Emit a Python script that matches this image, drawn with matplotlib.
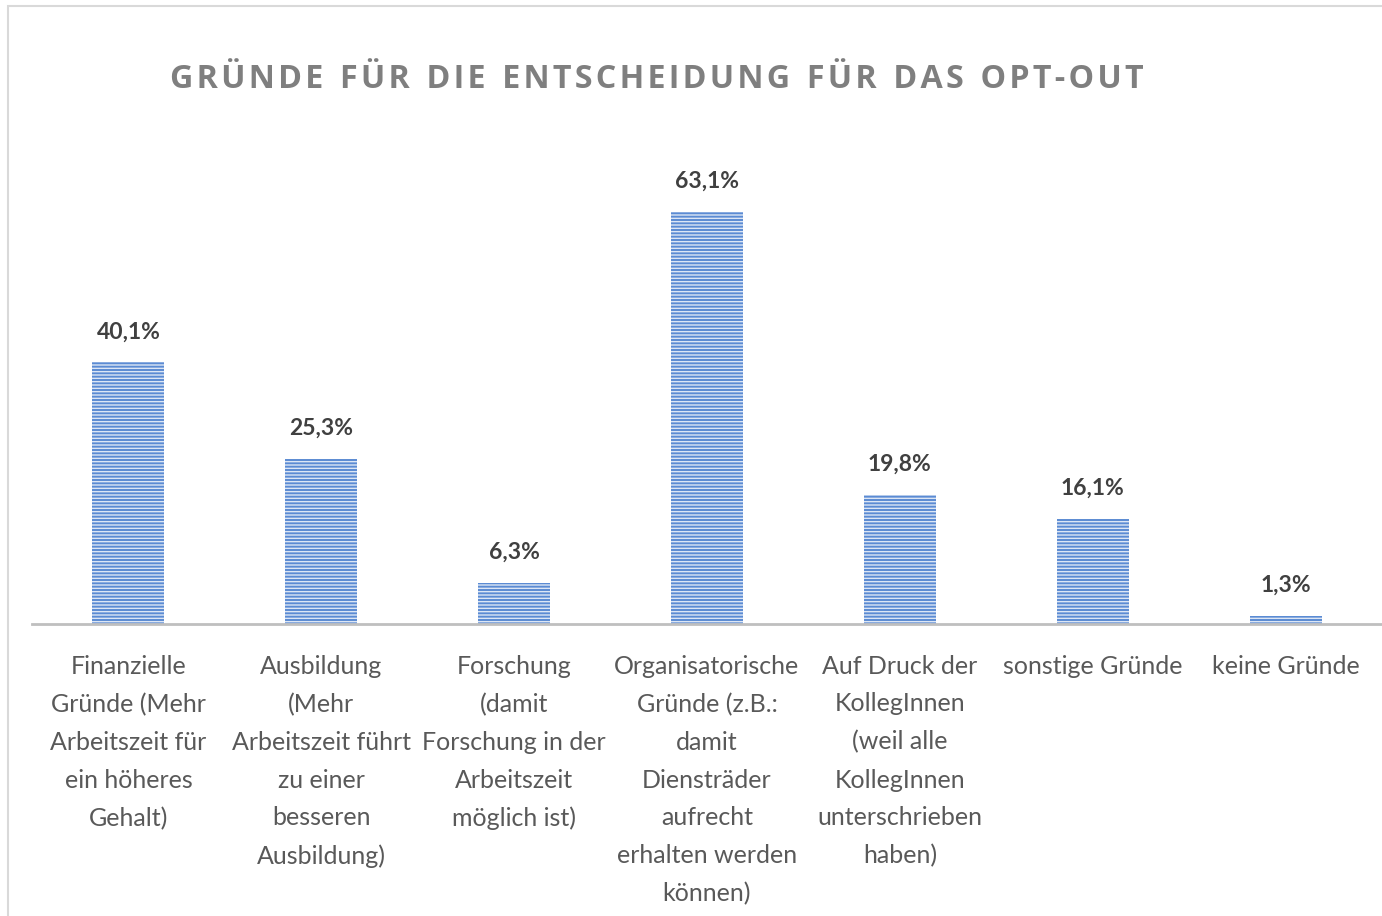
import matplotlib.pyplot as plt
from matplotlib.patches import Rectangle

plt.rcParams['hatch.color'] = '#dce6f5'
plt.rcParams['hatch.linewidth'] = 1.0

# Kategorien und Werte (in %)
kategorien = [
    'Finanzielle\nGründe (Mehr\nArbeitszeit für\nein höheres\nGehalt)',
    'Ausbildung\n(Mehr\nArbeitszeit führt\nzu einer\nbesseren\nAusbildung)',
    'Forschung\n(damit\nForschung in der\nArbeitszeit\nmöglich ist)',
    'Organisatorische\nGründe (z.B.:\ndamit\nDiensträder\naufrecht\nerhalten werden\nkönnen)',
    'Auf Druck der\nKollegInnen\n(weil alle\nKollegInnen\nunterschrieben\nhaben)',
    'sonstige Gründe',
    'keine Gründe',
]
werte = [40.1, 25.3, 6.3, 63.1, 19.8, 16.1, 1.3]
beschriftung = ['40,1%', '25,3%', '6,3%', '63,1%', '19,8%', '16,1%', '1,3%']
titel = 'GRÜNDE FÜR DIE ENTSCHEIDUNG FÜR DAS OPT-OUT'

fig = plt.figure(figsize=(13.82, 9.16), dpi=100)
fig.patches.append(Rectangle((8 / 1382, -0.1), 1.2, 1 - 6 / 916 + 0.1,
                             transform=fig.transFigure, fill=False,
                             edgecolor='#d9d9d9', linewidth=1.5))

ax = fig.add_axes([32 / 1382, 1 - 624 / 916, 1350 / 1382, 457 / 916])
x = list(range(len(werte)))
ax.bar(x, werte, width=0.374, color='#5b8bd3', edgecolor='#dce6f5',
       linewidth=0, hatch='-----')

for xi, w, t in zip(x, werte, beschriftung):
    ax.annotate(t, (xi, w), xytext=(0, 20), textcoords='offset pixels',
                ha='center', va='bottom', fontsize=16.5, fontweight='bold',
                color='#404040', family='Lato')

ax.set_xlim(-0.5, 6.5)
ax.set_ylim(0, 70)
ax.set_yticks([])
for s in ['top', 'right', 'left']:
    ax.spines[s].set_visible(False)
ax.spines['bottom'].set_color('#bfbfbf')
ax.spines['bottom'].set_linewidth(2)
ax.set_xticks(x)
ax.set_xticklabels(kategorien, fontsize=18, color='#595959', family='Lato',
                   linespacing=1.78)
ax.tick_params(axis='x', length=0, pad=22)

# Titel mit etwas Sperrung
gesperrt = '  '.join('\u200a'.join(wort) for wort in titel.split(' '))
fig.text(657 / 1382, 1 - 79 / 916, gesperrt,
         ha='center', va='center', fontsize=23.2, fontweight='bold',
         color='#7f7f7f', family=['Open Sans', 'DejaVu Sans'])

fig.savefig('out.png', dpi=100, facecolor='white')
